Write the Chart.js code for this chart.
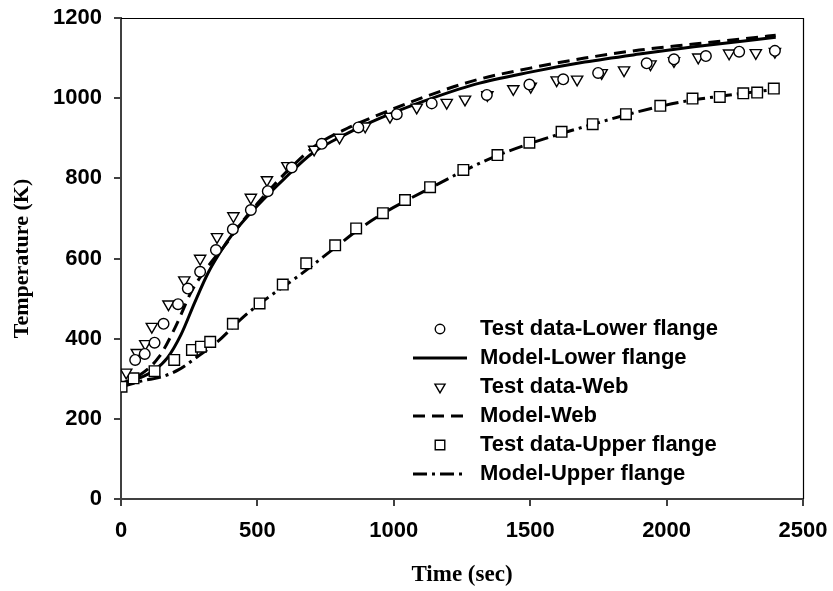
<!DOCTYPE html>
<html>
<head>
<meta charset="utf-8">
<script src="https://cdn.jsdelivr.net/npm/chart.js@4.4.1/dist/chart.umd.min.js"></script>
<style>
  body { margin: 0; background: #fff; }
  #chart { display: block; }
</style>
</head>
<body>
<canvas id="chart" width="833" height="591"></canvas>
<script>
// test data, lower flange (time in sec, temperature in K)
const lowerTestTime = [52, 87, 123, 156, 209, 245, 290, 348, 410, 476, 538, 626, 736, 870, 1011, 1139, 1341, 1497, 1621, 1749, 1927, 2027, 2144, 2266, 2397]
const lowerTestTemp = [347, 362, 390, 437, 486, 525, 567, 621, 673, 721, 768, 827, 886, 927, 960, 987, 1008, 1034, 1047, 1063, 1087, 1097, 1105, 1116, 1118]

// test data, web
const webTestTime = [19, 58, 89, 113, 174, 232, 290, 352, 412, 476, 535, 610, 708, 801, 895, 986, 1084, 1194, 1261, 1343, 1438, 1502, 1597, 1672, 1762, 1844, 1941, 2027, 2116, 2229, 2327, 2397]
const webTestTemp = [316, 365, 387, 430, 486, 546, 600, 654, 706, 752, 796, 831, 872, 902, 930, 954, 977, 989, 997, 1008, 1023, 1029, 1045, 1047, 1063, 1070, 1085, 1093, 1102, 1112, 1113, 1116]

// test data, upper flange
const upperTestTime = [2, 46, 123, 195, 260, 293, 327, 410, 508, 593, 679, 785, 862, 960, 1041, 1133, 1255, 1380, 1497, 1615, 1729, 1851, 1977, 2095, 2195, 2281, 2332, 2393]
const upperTestTemp = [280, 301, 319, 347, 372, 380, 392, 437, 488, 535, 588, 633, 675, 713, 746, 778, 821, 858, 889, 916, 935, 960, 981, 999, 1003, 1012, 1014, 1024]

// model curves
const lowerModelTime = [0, 60, 120, 170, 220, 270, 320, 360, 410, 470, 540, 600, 700, 830, 950, 1100, 1300, 1500, 1700, 1900, 2100, 2400]
const lowerModelTemp = [288, 300, 320, 352, 410, 490, 565, 612, 662, 710, 760, 800, 862, 912, 950, 990, 1035, 1065, 1090, 1110, 1128, 1152]

const webModelTime = [0, 60, 140, 200, 260, 330, 380, 440, 500, 560, 620, 710, 830, 950, 1100, 1300, 1500, 1700, 1900, 2100, 2400]
const webModelTemp = [288, 305, 355, 430, 520, 590, 632, 688, 737, 783, 825, 880, 925, 960, 1000, 1045, 1075, 1100, 1120, 1135, 1157]

const upperModelTime = [0, 80, 150, 210, 280, 350, 450, 540, 650, 790, 870, 960, 1050, 1140, 1260, 1380, 1500, 1620, 1730, 1850, 1980, 2100, 2200, 2290, 2400]
const upperModelTemp = [280, 295, 305, 322, 355, 390, 455, 503, 556, 630, 672, 712, 746, 778, 820, 857, 887, 913, 935, 958, 980, 996, 1005, 1013, 1022]

// axis ticks
const timeTicks = [0, 500, 1000, 1500, 2000, 2500]
const tempTicks = [0, 200, 400, 600, 800, 1000, 1200]

const SANS = '"Liberation Sans", Arial, sans-serif'
const SERIF = '"Liberation Serif", "Times New Roman", serif'
const AXIS = '#404040'

function pairs(xs, ys) {
  return xs.map((x, i) => ({ x: x, y: ys[i] }))
}

function testSet(label, xs, ys, style, radius, rotation) {
  return {
    label: label,
    data: pairs(xs, ys),
    showLine: false,
    pointStyle: style,
    pointRadius: radius,
    pointRotation: rotation || 0,
    pointBackgroundColor: '#fff',
    pointBorderColor: '#000',
    pointBorderWidth: 1.4,
    order: 0
  }
}

function modelSet(label, xs, ys, dash) {
  return {
    label: label,
    data: pairs(xs, ys),
    showLine: true,
    borderColor: '#000',
    borderWidth: 3,
    borderDash: dash,
    pointRadius: 0,
    cubicInterpolationMode: 'monotone',
    order: 1
  }
}

// top and right edges of the frame
const frame = {
  id: 'frame',
  beforeDatasetsDraw(chart) {
    const { ctx, chartArea: a } = chart
    ctx.save()
    ctx.strokeStyle = '#000'
    ctx.lineWidth = 1.2
    ctx.beginPath()
    ctx.moveTo(a.left, a.top + 0.5)
    ctx.lineTo(a.right + 0.5, a.top + 0.5)
    ctx.lineTo(a.right + 0.5, a.bottom)
    ctx.stroke()
    ctx.restore()
  }
}

// legend box sits inside the plot, lower right
const insideLegend = {
  id: 'insideLegend',
  afterDraw(chart) {
    const { ctx, chartArea: a } = chart
    const x0 = a.left + 292, x1 = a.left + 346, textX = a.left + 359
    let y = a.top + 311
    ctx.save()
    ctx.font = 'bold 22px ' + SANS
    ctx.textBaseline = 'middle'
    chart.data.datasets.forEach(ds => {
      ctx.strokeStyle = '#000'
      if (ds.showLine) {
        ctx.lineWidth = ds.borderWidth
        ctx.setLineDash(ds.borderDash || [])
        ctx.beginPath()
        ctx.moveTo(x0, y)
        ctx.lineTo(x1, y)
        ctx.stroke()
        ctx.setLineDash([])
      } else {
        ctx.fillStyle = '#fff'
        ctx.lineWidth = ds.pointBorderWidth
        Chart.helpers.drawPoint(ctx, {
          pointStyle: ds.pointStyle,
          radius: ds.pointRadius * 0.9,
          rotation: ds.pointRotation,
          borderWidth: ds.pointBorderWidth
        }, (x0 + x1) / 2, y)
      }
      ctx.fillStyle = '#000'
      ctx.fillText(ds.label, textX, y)
      y += 29
    })
    ctx.restore()
  }
}

const tickFont = { family: SANS, size: 22, weight: 'bold' }

new Chart(document.getElementById('chart'), {
  type: 'scatter',
  data: {
    datasets: [
      testSet('Test data-Lower flange', lowerTestTime, lowerTestTemp, 'circle', 5.3),
      modelSet('Model-Lower flange', lowerModelTime, lowerModelTemp, []),
      testSet('Test data-Web', webTestTime, webTestTemp, 'triangle', 6.5, 180),
      modelSet('Model-Web', webModelTime, webModelTemp, [12, 7]),
      testSet('Test data-Upper flange', upperTestTime, upperTestTemp, 'rect', 7.5),
      modelSet('Model-Upper flange', upperModelTime, upperModelTemp, [14, 5, 3, 5])
    ]
  },
  options: {
    responsive: false,
    animation: false,
    layout: { padding: { top: 18, right: 30, left: 0, bottom: 0 } },
    plugins: {
      legend: { display: false },
      tooltip: { enabled: false }
    },
    scales: {
      x: {
        type: 'linear',
        min: 0,
        max: 2500,
        afterBuildTicks: s => { s.ticks = timeTicks.map(v => ({ value: v })) },
        afterFit: s => {
          s.height = 92
          s.paddingLeft = 0
          s.paddingRight = 30
        },
        border: { color: AXIS, width: 2 },
        grid: { drawOnChartArea: false, color: AXIS, lineWidth: 2, tickLength: 7 },
        ticks: { color: '#000', padding: 12, font: tickFont, callback: v => String(v) },
        title: {
          display: true,
          text: 'Time (sec)',
          color: '#000',
          padding: { bottom: 4 },
          font: { family: SERIF, size: 23, weight: 'bold', lineHeight: 1 }
        }
      },
      y: {
        type: 'linear',
        min: 0,
        max: 1200,
        afterBuildTicks: s => { s.ticks = tempTicks.map(v => ({ value: v })) },
        afterFit: s => {
          s.width = 121
          s.paddingTop = 18
          s.paddingBottom = 0
        },
        border: { color: AXIS, width: 2 },
        grid: { drawOnChartArea: false, color: AXIS, lineWidth: 2, tickLength: 7 },
        ticks: { color: '#000', padding: 12, font: tickFont, callback: v => String(v) },
        title: {
          display: true,
          text: 'Temperature (K)',
          color: '#000',
          padding: { top: 9 },
          font: { family: SERIF, size: 22, weight: 'bold', lineHeight: 1.2 }
        }
      }
    }
  },
  plugins: [frame, insideLegend]
})
</script>
</body>
</html>
